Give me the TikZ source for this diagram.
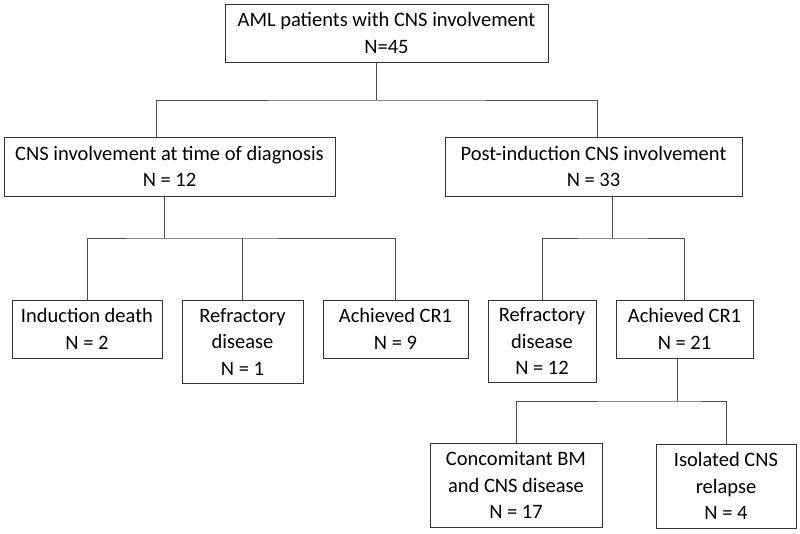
\documentclass[tikz,border=0pt]{standalone}
\usepackage{fontspec}
\setmainfont{Carlito}
\begin{document}
\begin{tikzpicture}[
        x=1pt, y=-1pt,
        box/.style={rectangle, draw=black!80, line width=1pt, align=center, inner sep=0pt, font=\fontsize{20.5}{26.5}\selectfont},
        link/.style={draw=black!70, line width=1pt}
    ]
        \useasboundingbox (0,0) rectangle (800,533);

        % Nivel 1
        \node[box, minimum width=323pt, minimum height=58pt] (all) at (386.5,33) {AML patients with CNS involvement\\N=45};

        % Nivel 2
        \node[box, minimum width=331pt, minimum height=59pt] (diag) at (169.5,166.5) {CNS involvement at time of diagnosis\\N = 12};
        \node[box, minimum width=297pt, minimum height=59pt] (post) at (593.5,166.5) {Post-induction CNS involvement\\N = 33};

        % Nivel 3
        \node[box, minimum width=150pt, minimum height=58pt] (death) at (87,329) {Induction death\\N = 2};
        \node[box, minimum width=121pt, minimum height=83pt] (refr1) at (242.5,341.5) {Refractory\\disease\\N = 1};
        \node[box, minimum width=145pt, minimum height=58pt] (cr1a) at (395.5,329) {Achieved CR1\\N = 9};
        \node[box, minimum width=108pt, minimum height=82pt] (refr12) at (542,341) {Refractory\\disease\\N = 12};
        \node[box, minimum width=137pt, minimum height=58pt] (cr1b) at (684.5,329) {Achieved CR1\\N = 21};

        % Nivel 4
        \node[box, minimum width=172pt, minimum height=84pt] (conc) at (516,485) {Concomitant BM\\and CNS disease\\N = 17};
        \node[box, minimum width=140pt, minimum height=84pt] (iso) at (726,486) {Isolated CNS\\relapse\\N = 4};

        % Puntos de unión
        \coordinate (j0) at (376,100);
        \coordinate (j1) at (164,238);
        \coordinate (j2) at (612,238);
        \coordinate (j3) at (677,401);

        % Conexiones
        \draw[link] (all.south -| j0) -- (j0);
        \draw[link] ([xshift=-13.5pt]diag.north) |- (j0) -| ([xshift=3.5pt]post.north);
        \draw[link] ([xshift=-5.5pt]diag.south) -- (j1);
        \draw[link] (death.north) |- (j1) -| (cr1a.north);
        \draw[link] (refr1.north) -- (refr1.north |- j1);
        \draw[link] ([xshift=18.5pt]post.south) -- (j2);
        \draw[link] (refr12.north) |- (j2) -| (cr1b.north);
        \draw[link] ([xshift=-7.5pt]cr1b.south) -- (j3);
        \draw[link] (conc.north) |- (j3) -| (iso.north);

    \end{tikzpicture}
\end{document}
